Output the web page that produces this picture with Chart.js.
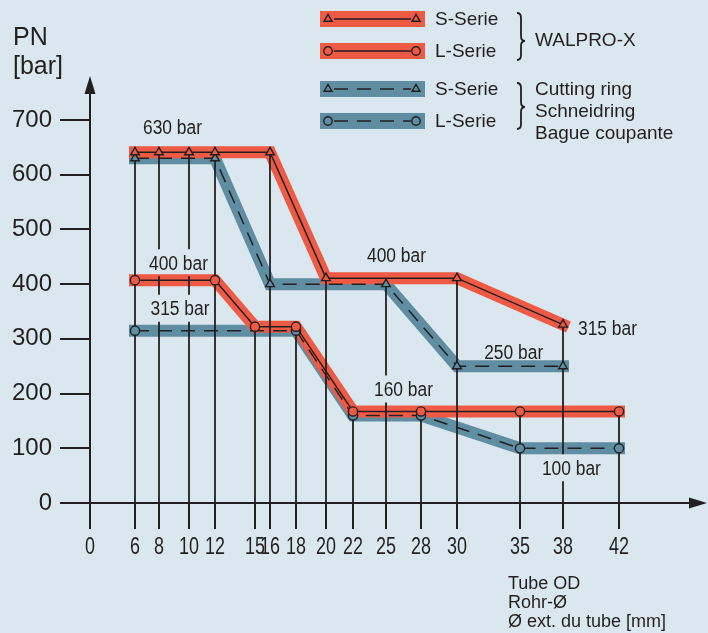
<!DOCTYPE html>
<html>
<head>
<meta charset="utf-8">
<script src="https://cdn.jsdelivr.net/npm/chart.js@4.4.1/dist/chart.umd.min.js"></script>
<style>
  html, body { margin: 0; padding: 0; background: #dbe7ee; }
  #wrap { width: 708px; height: 633px; }
</style>
</head>
<body>
<div id="wrap"><canvas id="myChart" width="708" height="633"></canvas></div>
<script>
// tube outside diameters on the x axis [mm] and pressure ticks [bar]
const tubeOD = [0, 6, 8, 10, 12, 15, 16, 18, 20, 22, 25, 28, 30, 35, 38, 42];
const pressureTicks = [0, 100, 200, 300, 400, 500, 600, 700];

// WALPRO-X
const walproS_od  = [6, 8, 10, 12, 16, 20, 30, 38];
const walproS_bar = [630, 630, 630, 630, 630, 400, 400, 315];
const walproL_od  = [6, 12, 15, 18, 22, 28, 35, 42];
const walproL_bar = [400, 400, 315, 315, 160, 160, 160, 160];

// cutting ring
const ringS_od  = [6, 12, 16, 25, 30, 38];
const ringS_bar = [630, 630, 400, 400, 250, 250];
const ringL_od  = [6, 18, 22, 28, 35, 42];
const ringL_bar = [315, 315, 160, 160, 100, 100];

// the OD axis is not to scale: where each tick sits along the 600 px axis
const axisStops = [0, 45, 69, 99, 125, 165, 180, 206, 236, 263, 296, 331, 367, 430, 473, 529];

const ink = '#231f20';
const red = '#ef5a45';
const blue = '#5f8da2';
const sans = '"Liberation Sans", Arial, sans-serif';

function interp(v, from, to) {
  const n = from.length;
  let i = 1;
  while (i < n - 1 && v > from[i]) i++;
  const t = (v - from[i - 1]) / (from[i] - from[i - 1]);
  return to[i - 1] + t * (to[i] - to[i - 1]);
}
const warp = v => interp(v, tubeOD, axisStops);
const unwarp = p => interp(p, axisStops, tubeOD);

class TubeScale extends Chart.LinearScale {
  getPixelForValue(value) { return super.getPixelForValue(warp(value)); }
  getValueForPixel(pixel) { return unwarp(super.getValueForPixel(pixel)); }
}
TubeScale.id = 'tube';
TubeScale.defaults = Chart.LinearScale.defaults;
Chart.register(TubeScale);

const points = (ods, bars) => ods.map((x, i) => ({ x, y: bars[i] }));

function thinLine(label, data, color, style, dashed, lift) {
  return {
    label, data, lift,
    borderColor: ink, borderWidth: 1.5,
    borderDash: dashed ? [14, 9] : [],
    pointStyle: style,
    pointRadius: style === 'triangle' ? 5 : 4.6,
    pointBorderWidth: 1.4,
    pointBorderColor: ink,
    pointBackgroundColor: color,
    tension: 0, fill: false
  };
}
function band(data, color, lift) {
  return {
    data, lift,
    borderColor: color, borderWidth: 12,
    borderCapStyle: 'square', borderJoinStyle: 'miter',
    pointRadius: 0, tension: 0, fill: false
  };
}

// condensed look: regular sans squeezed horizontally
function squeezed(ctx, text, x, y, align, sx) {
  ctx.save();
  ctx.translate(x, y);
  ctx.scale(sx, 1);
  ctx.textAlign = align;
  ctx.fillText(text, 0, 0);
  ctx.restore();
}
const noteFont = '20px ' + sans;
const noteSqueeze = 0.87;

// value notes: text comes from the series values
const notes = [
  { bar: ringS_bar[0],   od: 8.9,  dy: -30 },
  { bar: walproL_bar[0], od: 9.3,  dy: -20 },
  { bar: ringL_bar[0],   od: 9.4,  dy: -21 },
  { bar: ringS_bar[2],   od: 25.9, dy: -28 },
  { bar: walproS_bar[7], od: 38,   dy: -1, dx: 15, align: 'left' },
  { bar: ringS_bar[4],   od: 34.5, dy: -13 },
  { bar: ringL_bar[2],   od: 26.5, dy: -25 },
  { bar: ringL_bar[4],   od: 38.6, dy: 21 }
];

function noteBoxes(chart) {
  const { ctx, scales } = chart;
  ctx.save();
  ctx.font = noteFont;
  const out = notes.map(n => {
    const text = n.bar + ' bar';
    const w = ctx.measureText(text).width * noteSqueeze;
    const x = scales.x.getPixelForValue(n.od) + (n.dx || 0);
    const y = scales.y.getPixelForValue(n.bar) + n.dy;
    const left = n.align === 'left' ? x : x - w / 2;
    return { text, x, y, align: n.align || 'center', left: left - 3, top: y - 15, width: w + 6, height: 27 };
  });
  ctx.restore();
  return out;
}

function drawDropLines(chart) {
  const { ctx, chartArea } = chart;
  const tops = new Map();
  for (let i = 0; i < 4; i++) {
    const data = chart.data.datasets[i].data;
    chart.getDatasetMeta(i).data.forEach((p, j) => {
      const cur = tops.get(data[j].x);
      if (!cur || p.y < cur.y) tops.set(data[j].x, { x: p.x, y: p.y });
    });
  }
  ctx.save();
  ctx.beginPath();
  ctx.rect(0, 0, chart.width, chart.height);
  noteBoxes(chart).forEach(b => ctx.rect(b.left, b.top, b.width, b.height));
  ctx.clip('evenodd');
  ctx.strokeStyle = ink;
  ctx.lineWidth = 1.8;
  tops.forEach(t => {
    ctx.beginPath();
    ctx.moveTo(t.x, chartArea.bottom);
    ctx.lineTo(t.x, t.y);
    ctx.stroke();
  });
  ctx.restore();
}

function marker(ctx, style, x, y, r, fillColor) {
  ctx.fillStyle = fillColor;
  ctx.strokeStyle = ink;
  ctx.setLineDash([]);
  Chart.helpers.drawPoint(ctx, { pointStyle: style, radius: r, borderWidth: 1.4, rotation: 0 }, x, y);
}

function brace(ctx, x, top, bottom, tip) {
  ctx.beginPath();
  ctx.moveTo(x, top);
  ctx.quadraticCurveTo(x + 4, top, x + 4, top + 5);
  ctx.lineTo(x + 4, tip - 5);
  ctx.quadraticCurveTo(x + 4, tip, x + 8, tip);
  ctx.quadraticCurveTo(x + 4, tip, x + 4, tip + 5);
  ctx.lineTo(x + 4, bottom - 5);
  ctx.quadraticCurveTo(x + 4, bottom, x, bottom);
  ctx.stroke();
}

const decor = {
  id: 'decor',
  afterDatasetUpdate(chart, args) {
    // red pipes sit a few pixels above the blue ones so both stay visible
    const lift = chart.data.datasets[args.index].lift;
    if (lift) args.meta.data.forEach(p => { p.y -= lift; });
  },
  afterDatasetDraw(chart, args) {
    if (args.index === 4) drawDropLines(chart);
  },
  afterDatasetsDraw(chart) {
    const { ctx, chartArea, scales } = chart;
    ctx.save();
    ctx.fillStyle = ink;
    ctx.strokeStyle = ink;
    ctx.textBaseline = 'middle';

    // OD tick labels, condensed
    ctx.font = '23px ' + sans;
    scales.x.ticks.forEach((t, i) => {
      squeezed(ctx, String(t.value), scales.x.getPixelForTick(i), chartArea.bottom + 45, 'center', 0.78);
    });

    // value notes
    ctx.font = noteFont;
    noteBoxes(chart).forEach(b => squeezed(ctx, b.text, b.x, b.y, b.align, noteSqueeze));

    // axis arrows
    ctx.beginPath();
    ctx.moveTo(chartArea.left, chartArea.top - 18);
    ctx.lineTo(chartArea.left - 5.5, chartArea.top);
    ctx.lineTo(chartArea.left + 5.5, chartArea.top);
    ctx.closePath();
    ctx.fill();
    ctx.beginPath();
    ctx.moveTo(chartArea.right + 17, chartArea.bottom);
    ctx.lineTo(chartArea.right - 1, chartArea.bottom - 5.5);
    ctx.lineTo(chartArea.right - 1, chartArea.bottom + 5.5);
    ctx.closePath();
    ctx.fill();

    // axis titles
    ctx.textAlign = 'left';
    ctx.font = '25px ' + sans;
    ctx.fillText('PN', 13, 38);
    ctx.fillText('[bar]', 13, 67);
    ctx.font = '18px ' + sans;
    ['Tube OD', 'Rohr-Ø', 'Ø ext. du tube [mm]'].forEach((t, i) => ctx.fillText(t, 508, 584 + i * 18.8));

    // legend
    const rowsY = [19, 51, 89, 121];
    const names = ['S-Serie', 'L-Serie', 'S-Serie', 'L-Serie'];
    rowsY.forEach((y, i) => {
      const ds = chart.data.datasets[i];
      const fillColor = ds.pointBackgroundColor;
      ctx.fillStyle = fillColor;
      ctx.fillRect(320, y - 8, 105, 16);
      ctx.strokeStyle = ink;
      ctx.lineWidth = 1.5;
      ctx.setLineDash(ds.borderDash);
      ctx.beginPath();
      ctx.moveTo(334, y);
      ctx.lineTo(411, y);
      ctx.stroke();
      ctx.lineWidth = 1.4;
      marker(ctx, ds.pointStyle, 328, y, ds.pointStyle === 'triangle' ? 4.6 : 4.2, fillColor);
      marker(ctx, ds.pointStyle, 416, y, ds.pointStyle === 'triangle' ? 4.6 : 4.2, fillColor);
      ctx.fillStyle = ink;
      ctx.font = '19px ' + sans;
      ctx.fillText(names[i], 435, y + 1);
    });
    ctx.setLineDash([]);
    ctx.lineWidth = 1.8;
    ctx.strokeStyle = ink;
    brace(ctx, 517, 13, 60, 41);
    brace(ctx, 517, 83, 129, 107);
    ctx.fillStyle = ink;
    ctx.font = '19px ' + sans;
    ctx.fillText('WALPRO-X', 535, 41);
    ['Cutting ring', 'Schneidring', 'Bague coupante'].forEach((t, i) => ctx.fillText(t, 535, 90 + i * 22));
    ctx.restore();
  }
};

const data = {
  datasets: [
    thinLine('WALPRO-X S-Serie', points(walproS_od, walproS_bar), red, 'triangle', false, 6),
    thinLine('WALPRO-X L-Serie', points(walproL_od, walproL_bar), red, 'circle', false, 4),
    thinLine('Cutting ring S-Serie', points(ringS_od, ringS_bar), blue, 'triangle', true, 0),
    thinLine('Cutting ring L-Serie', points(ringL_od, ringL_bar), blue, 'circle', true, 0),
    band(points(walproS_od, walproS_bar), red, 6),
    band(points(walproL_od, walproL_bar), red, 4),
    band(points(ringS_od, ringS_bar), blue, 0),
    band(points(ringL_od, ringL_bar), blue, 0)
  ]
};

const config = {
  type: 'line',
  data: data,
  options: {
    responsive: false,
    animation: false,
    devicePixelRatio: 1,
    events: [],
    layout: { padding: { top: 94, right: 18, left: 0, bottom: 0 } },
    plugins: { legend: { display: false }, tooltip: { enabled: false } },
    scales: {
      x: {
        type: 'tube',
        min: 0,
        max: 600,
        afterBuildTicks: s => { s.ticks = tubeOD.map(v => ({ value: v })); },
        afterFit: s => { s.height = 130; },
        border: { display: true, color: ink, width: 2 },
        grid: { drawOnChartArea: false, drawTicks: true, tickLength: 26, color: ink, lineWidth: 2 },
        ticks: { display: false, autoSkip: false, maxRotation: 0 }
      },
      y: {
        min: 0,
        max: 747.5,
        afterBuildTicks: s => { s.ticks = pressureTicks.map(v => ({ value: v })); },
        afterFit: s => { s.width = 90; },
        border: { display: true, color: ink, width: 2 },
        grid: { drawOnChartArea: false, drawTicks: true, tickLength: 30, color: ink, lineWidth: 2 },
        ticks: {
          padding: 8, color: ink, font: { family: sans, size: 24 },
          callback: v => String(v)
        }
      }
    }
  },
  plugins: [decor]
};

var myChart = new Chart(document.getElementById('myChart'), config);
</script>
</body>
</html>
